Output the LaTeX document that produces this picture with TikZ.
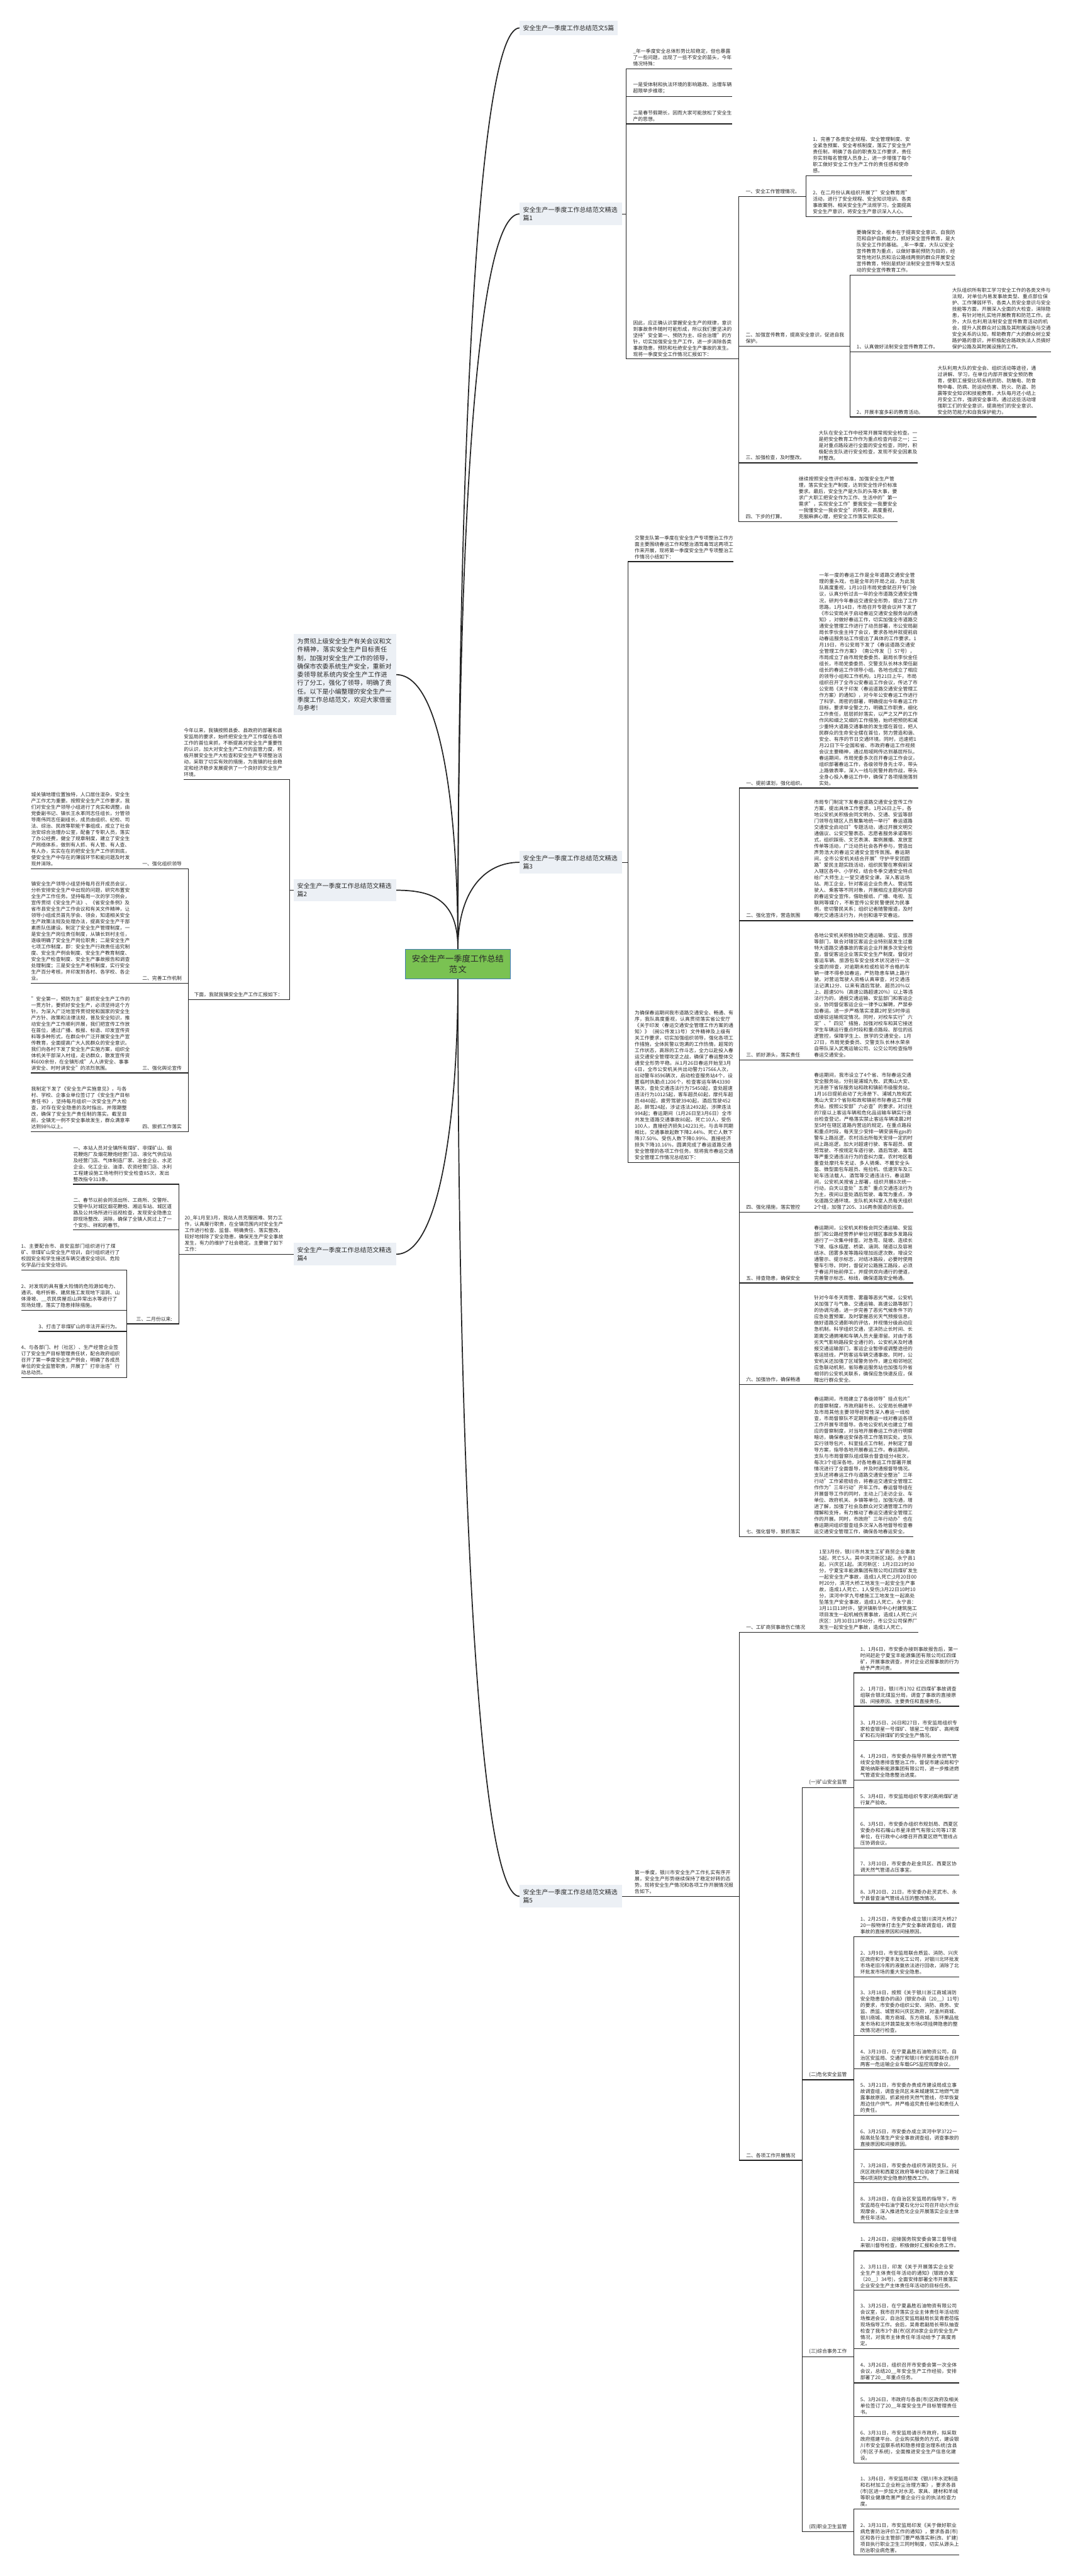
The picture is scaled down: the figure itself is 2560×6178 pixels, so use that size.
\documentclass[tikz,border=0pt]{standalone}
\usepackage{fontspec}
\setmainfont{Noto Sans CJK SC}
\XeTeXlinebreaklocale "zh"
\XeTeXlinebreakskip = 0pt plus 1pt
\usepackage{xcolor}
\definecolor{rootfill}{RGB}{122,194,82}
\definecolor{rootline}{RGB}{66,122,190}
\definecolor{topicfill}{RGB}{236,240,245}
\definecolor{linecol}{RGB}{34,34,34}
\definecolor{textcol}{RGB}{40,40,40}
\usepackage{tikz}
\usetikzlibrary{positioning, calc, backgrounds}

\begin{document}
\begin{tikzpicture}[
        x=1pt, y=-1pt,
        root/.style={rectangle, draw=rootline, line width=2pt, fill=rootfill, text width=222pt, inner xsep=15pt, inner ysep=13pt, align=center, font=\fontsize{20}{26}\selectfont, text=textcol},
        topic/.style={rectangle, fill=topicfill, inner xsep=8pt, inner ysep=10pt, align=left, font=\fontsize{15}{20}\selectfont, text=textcol},
        para/.style={inner xsep=0pt, inner ysep=6pt, text width=237pt, align=left, font=\fontsize{11.8}{15.1}\selectfont, text=textcol},
        lbl/.style={inner xsep=0pt, inner ysep=6pt, font=\fontsize{11.8}{15.1}\selectfont, text=textcol},
        link/.style={draw=linecol, line width=1.8pt},
        curve/.style={draw=linecol, line width=2.6pt}
    ]
    \useasboundingbox (0,0) rectangle (2560,6178);

    % centre
    \node[root] (root) at (1098, 2312) {安全生产一季度工作总结\\范文};

    % right side topics
    \node[topic, anchor=west] (t0) at (1246, 67) {安全生产一季度工作总结范文5篇};
    \node[topic, anchor=west, text width=230pt] (B) at (1246, 513) {安全生产一季度工作总结范文精选篇1};
    \node[topic, anchor=west, text width=230pt] (C) at (1246, 2068) {安全生产一季度工作总结范文精选篇3};
    \node[topic, anchor=west, text width=230pt] (D) at (1246, 4548) {安全生产一季度工作总结范文精选篇5};

    % left side topics
    \node[topic, anchor=east, text width=229pt] (E) at (950, 1618) {为贯彻上级安全生产有关会议和文件精神，落实安全生产目标责任制，加强对安全生产工作的领导，确保市农委系统生产安全，重新对委领导就系统内安全生产工作进行了分工，强化了领导，明确了责任。以下是小编整理的安全生产一季度工作总结范文，欢迎大家借鉴与参考!};
    \node[topic, anchor=east, text width=229pt] (F) at (950, 2135) {安全生产一季度工作总结范文精选篇2};
    \node[topic, anchor=east, text width=229pt] (G) at (950, 3008) {安全生产一季度工作总结范文精选篇4};

    % 精选篇1
    \node[para, anchor=south west] (b1) at (1518, 165) {\_年一季度安全总体形势比较稳定，但也暴露了一些问题，出现了一些不安全的苗头，今年情况特殊：};
    \node[para, anchor=south west] (b2) at (1518, 231) {一是受体制和执法环境的影响路政、治理车辆超限举步维艰；};
    \node[para, anchor=south west] (b3) at (1518, 297) {二是春节假期长，因而大家可能放松了安全生产的思想。};
    \node[para, anchor=south west] (b4) at (1518, 861) {因此，应正确认识掌握安全生产的规律，意识到事故条件随时可能形成，所以我们要坚决的坚持"安全第一、预防为主、综合治理"的方针，切实加强安全生产工作，进一步消除各类事故隐患，预防和杜绝安全生产事故的发生。现将一季度安全工作情况汇报如下：};
    \node[lbl, anchor=south west] (b41) at (1788, 471) {一、安全工作管理情况。};
    \node[para, anchor=south west] (b411) at (1949, 421) {1、完善了各类安全规程、安全管理制度、安全紧急预案、安全考核制度，落实了安全生产责任制，明确了各自的职责及工作要求，责任夯实到每名管理人员身上，进一步增强了每个职工做好安全工作生产工作的责任感和使命感。};
    \node[para, anchor=south west] (b412) at (1949, 519) {2、在二月份认真组织开展了"安全教育周"活动，进行了安全规程、安全知识培训、各类事故案例、相关安全生产法规学习，全面提高安全生产意识，将安全生产意识深入人心。};
    \node[para, anchor=south west] (b42) at (1788, 830) {二、加强宣传教育，提高安全意识，促进自我保护。};
    \node[para, anchor=south west] (b421) at (2054, 660) {要确保安全，根本在于提高安全意识、自我防范和自护自救能力，抓好安全宣传教育，是大队安全工作的基础。\_年一季度，大队以安全宣传教育为重点，以做好事前预防为目的，经常性地对队员和沿公路线两侧的群众开展安全宣传教育，特别是抓好法制安全宣传等大型活动的安全宣传教育工作。};
    \node[lbl, anchor=south west] (b422) at (2054, 844) {1、认真做好法制安全宣传教育工作。};
    \node[para, anchor=south west] (b4221) at (2283, 844) {大队组织所有职工学习安全工作的各类文件与法规，对单位内易发事故类型、重点部位保护、工作薄弱环节、各类人员安全意识与安全技能等方面，开展深入全面的大检查，消除隐患，有针对地扎实地开展教育和防范工作。此外，大队也利用法制安全宣传教育活动的机会，提升人民群众对公路及其附属设施与交通安全关系的认知，帮助教育广大的群众树立爱路护路的意识，并积极配合路政执法人员搞好保护公路及其附属设施的工作。};
    \node[lbl, anchor=south west] (b423) at (2054, 1000) {2、开展丰富多彩的教育活动。};
    \node[para, anchor=south west] (b4231) at (2248, 1000) {大队利用大队的安全会、组织活动等途径，通过讲解、学习，在单位内部开展安全预防教育，使职工接受比较系统的防、防触电、防食物中毒、防病、防运动伤害、防火、防盗、防震等安全知识和技能教育。大队每月还小结上月安全工作，强调安全事项。通过这些活动增强职工们的安全意识，提高他们的安全意识、安全防范能力和自我保护能力。};
    \node[lbl, anchor=south west] (b43) at (1788, 1110) {三、加强检查，及时整改。};
    \node[para, anchor=south west] (b431) at (1963, 1110) {大队在安全工作中经常开展常规安全检查。一是把安全教育工作作为重点检查内容之一；二是对重点路段进行全面的安全检查，同时，积极配合支队进行安全检查，发现不安全因素及时整改。};
    \node[lbl, anchor=south west] (b44) at (1788, 1251) {四、下步的打算。};
    \node[para, anchor=south west] (b441) at (1915, 1251) {继续按照安全性评价标准，加强安全生产管理，落实安全生产制度，达到安全性评价标准要求。最后，安全生产是大队的头等大事，要求广大职工把安全作为工作、生活中的"第一需求"，实现安全工作"要我安全一我要安全一我懂安全一我会安全"的转变。高度重视，克服麻痹心理，把安全工作落实到实处。};

    % 精选篇3
    \node[para, anchor=south west] (c1) at (1522, 1347) {交警支队第一季度在安全生产专项整治工作方面主要围绕春运工作和整治酒驾毒驾这两项工作来开展，现将第一季度安全生产专项整治工作情况小结如下：};
    \node[para, anchor=south west] (c2) at (1522, 2788) {为确保春运期间我市道路交通安全、畅通、有序，我队高度重视，认真贯彻落实省公安厅《关于印发〈春运交通安全管理工作方案的通知〉》（闽公传发13号）文件精神及上级有关工作要求，切实加强组织领导，强化各项工作措施，全体民警以饱满的工作热情，超常的工作状态，高昂的工作斗志，全力以赴投入春运交通安全管理攻坚之战，确保了春运整体交通安全形势平稳。从1月26日春运开始至3月6日，全市公安机关共出动警力17566人次，出动警车8596辆次，启动检查服务站4个，设置临时执勤点1206个，检查客运车辆43390辆次，查处交通违法行为75450起，查处超速违法行为10125起，客车超员60起，摩托车超员4840起，疲劳驾驶3940起，酒后驾驶452起，醉驾24起，涉证违法2492起，涉牌违法994起；春运期间（1月26日至3月6日）全市共发生道路交通事故80起，死亡10人，受伤100人，直接经济损失142231元，与去年同期相比，交通事故起数下降2.44\%、死亡人数下降37.50\%、受伤人数下降0.99\%、直接经济损失下降10.16\%，圆满完成了春运道路交通安全管理的各项工作任务。现将我市春运交通安全管理工作情况总结如下：};
    \node[lbl, anchor=south west] (c21) at (1789, 1890) {一、提前谋划，强化组织。};
    \node[para, anchor=south west] (c211) at (1964, 1890) {一年一度的春运工作是全年道路交通安全管理的重头戏，也是全年的开局之战，为此我队高度重视，1月10日市局党委就召开专门会议，认真分析过去一年的全市道路交通安全情况，研判今年春运交通安全形势，提出了工作思路。1月14日，市局召开专题会议并下发了《市公安局关于启动春运交通安全服务站的通知》，对做好春运工作，切实加强全市道路交通安全管理工作进行了动员部署，市公安局副局长李伙金主持了会议，要求各地并就提前启动春运服务站工作提出了具体的工作要求。1月19日，市公安局下发了《春运道路交通安全管理工作方案》（南公传发［］57号），市局成立了由市局党委委员、副局长李伙金任组长，市局党委委员、交警支队长林水荣任副组长的春运工作领导小组。各地也成立了相应的领导小组和工作机构。1月21日上午，市局组织召开了全市公安春运工作会议，传达了市公安局《关于印发〈春运道路交通安全管理工作方案〉的通知》，对今年公安春运工作进行了科学、周密的部署，明确提出今年春运工作目标，要求举全警之力，明确工作职责，细化工作责任，层层抓好落实，以严之又严的工作作风和细之又细的工作措施，始终把预防和减少重特大道路交通事故的发生摆在首位，把人民群众的生命安全摆在首位，努力营造和谐、安全、有序的节日交通环境。同时，迅速把1月22日下午全国和省、市政府春运工作视频会议主要精神，通过局域网传达到基层所队。春运期间，市局党委多次召开春运工作会议，组织部署春运工作，各级领导身先士卒，带头上路做表率，深入一线与民警并肩作战，带头全身心投入春运工作中，确保了各项措施落到实处。};
    \node[lbl, anchor=south west] (c22) at (1789, 2208) {二、强化宣传，营造氛围};
    \node[para, anchor=south west] (c221) at (1952, 2208) {市局专门制定下发春运道路交通安全宣传工作方案，提出具体工作要求。1月26日上午，各地公安机关积极会同文明办、交通、安监等部门领导在辖区人员聚集地统一举行"春运道路交通安全启动日"专题活动，通过开展文明交通倡议、公安交警表态、志愿者服务承诺等形式，组织踩街、文艺表演、案例展播、发放宣传单等活动，广泛动员社会各界参与，营造出声势浩大的春运交通安全宣传氛围。春运期间，全市公安机关结合开展"守护平安团圆路"爱民主题实践活动，组织民警在寒假前深入辖区各中、小学校，结合冬季交通安全特点给广大师生上一堂交通安全课。深入客运场站、用工企业，针对客运企业负责人、营运驾驶人、乘客等不同对象，开展相应主题和内容的春运安全宣传。借助报纸、广播、电视、互联网等媒介，不断宣传公安民警便民为民事例，密切警民关系；组织记者随警报道，及时曝光交通违法行为，共创和谐平安春运。};
    \node[lbl, anchor=south west] (c23) at (1789, 2542) {三、抓好源头，落实责任};
    \node[para, anchor=south west] (c231) at (1952, 2542) {各地公安机关积极协助交通运输、安监、旅游等部门，联合对辖区客运企业特别是发生过重特大道路交通事故的客运企业开展多次安全检查，督促客运企业落实安全生产制度。督促对客运车辆、旅游包车安全技术状况进行一次全面的排查，对逾期未检或检验不合格的车辆一律不得参加春运，严防隐患车辆上路行驶。对营运驾驶人资格认真审查，对交通违法记满12分、以来有酒后驾驶、超员20\%以上、超速50\%（高速公路超速20\%）以上等违法行为的，通报交通运输、安监部门和客运企业，协同督促客运企业一律予以解聘，严禁参加春运。进一步严格落实凌晨2时至5时停运或接驳运输规定情况。同时，对校车实行"六定"、"四见"措施，加强对校车和其它接送学生车辆运行重点时段和重点路段、部位的巡逻管控，保障学生上、放学的交通安全。1月27日，市局党委委员、交警支队长林水荣亲自带队深入武夷运输公司、公交公司检查指导春运交通安全。};
    \node[lbl, anchor=south west] (c24) at (1789, 2907) {四、强化措施，落实管控};
    \node[para, anchor=south west] (c241) at (1952, 2907) {春运期间，我市设立了4个省、市际春运交通安全服务站，分别是浦城九牧、武夷山大安、光泽册下省际服务站和政和镇前市级服务站，1月16日提前启动了光泽册下、浦城九牧和武夷山大安3个省际和政和镇前市际春运工作服务站，按照公安部"六必查"的要求，对过往的7座以上客运车辆和危化品运输车辆实行逐台检查登记，严格落实禁止客运车辆凌晨2时至5时在辖区道路内营运的规定。在重点路段和重点时段，每天至少安排一辆安装有gps的警车上路巡逻，农村派出所每天安排一定的时间上路巡逻。加大对超速行驶、客车超员、疲劳驾驶、不按规定车道行驶、酒后驾驶、毒驾等严重交通违法行为的查纠力度。农村地区着重查处摩托车无证、多人骑乘、不戴安全头盔、微型面包车超员、拖拉机、低速货车及三轮车违法载人、酒驾等交通违法行。春运期间，公安机关按省上部署，组织开展8次统一行动，白天以查处"五类"重点交通违法行为为主，夜间以查处酒后驾驶、毒驾为重点，净化道路交通环境。支队机关科室人员每天组织2个组，加强了205、316两条国道的巡查。};
    \node[lbl, anchor=south west] (c25) at (1789, 3077) {五、排查隐患，确保安全};
    \node[para, anchor=south west] (c251) at (1952, 3077) {春运期间，公安机关积极会同交通运输、安监部门和公路经营养护单位对辖区事故多发路段进行了一次集中排查。对急弯、陡坡、连续长下坡、临水临崖、桥梁、涵洞、隧道以及容易结冰、团雾多发等路段增加巡逻次数，增设交通警示、提示标志，对结冰路段，必要时使用警车引导。同时，督促对公路施工路段，必须于春运开始前停工，并提供双向通行的便道，完善警示标志、标线，确保道路安全畅通。};
    \node[lbl, anchor=south west] (c26) at (1789, 3321) {六、加强协作，确保畅通};
    \node[para, anchor=south west] (c261) at (1952, 3321) {针对今年冬天雨雪、雾霾等恶劣气候，公安机关加强了与气象、交通运输、高速公路等部门的协调沟通，进一步完善了恶劣气候条件下的应急处置预案，及时掌握恶劣天气预报信息，做好道路交通影响的评估，并视情分级启动应急机制。科学组织交通，坚决防止长时间、长距离交通拥堵和车辆人员大量滞留。对由于恶劣天气影响路段安全通行的，公安机关及时通报交通运输部门，客运企业暂停或调整途径的客运班线，严防客运车辆交通事故。同时，公安机关还加强了区域警务协作，建立相邻地区应急联动机制，省际春运服务站也加强与外省相邻的公安机关联系，确保应急快速反应，保障出行群众安全。};
    \node[lbl, anchor=south west] (c27) at (1789, 3685) {七、强化督导，狠抓落实};
    \node[para, anchor=south west] (c271) at (1952, 3685) {春运期间，市局建立了各级领导"挂点包片"的督察制度，市政府副市长、公安局长杨建平及市局其他主要领导经常性深入春运一线检查，市局督察队不定期到春运一线对春运各项工作开展专项督导。各地公安机关也建立了相应的督察制度，对当地开展春运工作进行明察暗访，确保春运安保各项工作落到实处。支队实行领导包片、科室挂点工作制，并制定了督导方案，指导各地开展春运工作。春运期间，支队与市局督察队组成联合督查组分4批次，每次3个组深各地，对各地春运工作部署开展情况进行了全面督导，并及时通报督导情况。支队还将春运工作与道路交通安全整治"三年行动"工作紧密结合，将春运交通安全管理工作作为"三年行动"开年工作。春运督导组在开展督导工作的同时，主动上门走访企业、车单位、政府机关、乡镇等单位，加强沟通，增进了解，加强了社会及群众对交通管理工作的理解和支持，有力推动了春运交通安全管理工作的开展。同时，市政府"三年行动办"也在春运期间组织督查组多次深入各地督导检查春运交通安全管理工作，确保各地春运安全。};

    % 精选篇5
    \node[para, anchor=south west] (d1) at (1522, 4548) {第一季度，银川市安全生产工作扎实有序开展，安全生产形势继续保持了稳定好转的态势。现将安全生产情况和各项工作开展情况报告如下。};
    \node[lbl, anchor=south west] (d11) at (1789, 3915) {一、工矿商贸事故伤亡情况};
    \node[para, anchor=south west] (d111) at (1964, 3915) {1至3月份，银川市共发生工矿商贸企业事故5起，死亡5人。其中滨河新区3起，永宁县1起，兴庆区1起。滨河新区：1月2日23时30分，宁夏宝丰能源集团有限公司红四煤矿发生一起安全生产事故，造成1人死亡;2月20日00时20分，滨河大桥工地发生一起安全生产事故，造成1人死亡、1人受伤;3月22日10时10分，滨河中学九号楼施工工地发生一起高处坠落生产安全事故，造成1人死亡。永宁县：3月11日13时许，望洪镇新华中心村建筑施工项目发生一起机械伤害事故，造成1人死亡;兴庆区：3月30日11时40分，市公交公司保养厂发生一起安全生产事故，造成1人死亡。};
    \node[lbl, anchor=south west] (d12) at (1789, 5181) {二、各项工作开展情况};
    \node[lbl, anchor=south west] (d121) at (1940, 4287) {(一)矿山安全监管};
    \node[para, anchor=south west] (d1211) at (2063, 4012) {1、1月6日，市安委办接到事故报告后，第一时间赶赴宁夏宝丰能源集团有限公司红四煤矿，开展事故调查，并对企业迟报事故的行为给予严肃问责。};
    \node[para, anchor=south west] (d1212) at (2063, 4092) {2、1月7日，银川市1?02 红四煤矿事故调查组联合银北煤监分局，调查了事故的直接原因、间接原因、主要责任和直接责任。};
    \node[para, anchor=south west] (d1213) at (2063, 4174) {3、1月25日、26日和27日，市安监局组织专家检查银星一号煤矿、银星二号煤矿、高闸煤矿和石沟驿煤矿的安全生产情况。};
    \node[para, anchor=south west] (d1214) at (2063, 4269) {4、1月29日，市安委办指导开展全市燃气管线安全隐患排查整治工作，督促市建设局和宁夏哈纳斯新能源集团有限公司，进一步推进燃气管道安全隐患整治进度。};
    \node[para, anchor=south west] (d1215) at (2063, 4335) {5、3月4日，市安监局组织专家对高闸煤矿进行复产验收。};
    \node[para, anchor=south west] (d1216) at (2063, 4432) {6、3月5日，市安委办组织市规划局、西夏区安委办和石嘴山市星泽燃气有限公司等17家单位，在行政中心8楼召开西夏区燃气管线占压协调会议。};
    \node[para, anchor=south west] (d1217) at (2063, 4497) {7、3月10日，市安委办赴金凤区、西夏区协调天然气管道占压事宜。};
    \node[para, anchor=south west] (d1218) at (2063, 4564) {8、3月20日、21日，市安委办赴灵武市、永宁县督查油气管线占压的整改情况。};
    \node[lbl, anchor=south west] (d122) at (1940, 4988) {(二)危化安全监管};
    \node[para, anchor=south west] (d1221) at (2063, 4645) {1、2月25日，市安委办成立银川滨河大桥2?20一般物体打击生产安全事故调查组，调查事故的直接原因和间接原因。};
    \node[para, anchor=south west] (d1222) at (2063, 4741) {2、3月9日，市安监局联合质监、消防、兴庆区政府和宁夏丰友化工公司，对银川北环批发市场老旧冷库的液氨依法进行回收，消除了北环批发市场的重大安全隐患。};
    \node[para, anchor=south west] (d1223) at (2063, 4881) {3、3月18日，按照《关于银川浙江商城消防安全隐患督办的函》(银安办函〔20\_\_〕11号)的要求，市安委办组织公安、消防、商务、安监、质监、城管和兴庆区政府，对温州商城、银川商城、南方商城、东方商城、东环果品批发市场和北环蔬菜批发市场6项挂牌隐患的整改情况进行检查。};
    \node[para, anchor=south west] (d1224) at (2063, 4962) {4、3月19日，在宁夏晶胜石油物资公司，自治区安监局、交通厅和银川市安监局联合召开两客一危运输企业车载GPS监控观摩会议。};
    \node[para, anchor=south west] (d1225) at (2063, 5073) {5、3月21日，市安委办责成市建设局成立事故调查组，调查金凤区未来城建筑工地燃气泄露事故原因，抓紧抢修天然气管线，尽早恢复周边住户供气，并严格追究责任单位和责任人的责任。};
    \node[para, anchor=south west] (d1226) at (2063, 5154) {6、3月25日，市安委办成立滨河中学3?22一般高处坠落生产安全事故调查组，调查事故的直接原因和间接原因。};
    \node[para, anchor=south west] (d1227) at (2063, 5235) {7、3月28日，市安委办组织市消防支队、兴庆区政府和西夏区政府等单位验收了浙江商城等6项消防安全隐患的整改工作。};
    \node[para, anchor=south west] (d1228) at (2063, 5331) {8、3月28日，在自治区安监局的指导下，市安监局在中石油宁夏石化分公司召开动火作业观摩会，深入推进危化企业开展落实企业主体责任年活动。};
    \node[lbl, anchor=south west] (d123) at (1940, 5652) {(三)综合事务工作};
    \node[para, anchor=south west] (d1231) at (2063, 5398) {1、2月26日，迎接国务院安委会第三督导组来银川督导检查，积极做好汇报和会务工作。};
    \node[para, anchor=south west] (d1232) at (2063, 5493) {2、3月11日，印发《关于开展落实企业安全生产主体责任年活动的通知》(银政办发〔20\_\_〕34号)，全面安排部署全市开展落实企业安全生产主体责任年活动的目标任务。};
    \node[para, anchor=south west] (d1233) at (2063, 5633) {3、3月25日，在宁夏晶胜石油物资有限公司会议室，我市召开落实企业主体责任年活动现场推进会议，自治区安监局副局长吴青君莅临现场指导工作。会后，吴青君副局长带队抽查检查了我市3个县(市)区的8家企业的安全生产情况，对我市主体责任年活动给予了高度肯定。};
    \node[para, anchor=south west] (d1234) at (2063, 5715) {4、3月26日，组织召开市安委会第一次全体会议，总结20\_\_年安全生产工作经验，安排部署了20\_\_年重点任务。};
    \node[para, anchor=south west] (d1235) at (2063, 5796) {5、3月26日，市政府与各县(市)区政府及相关单位签订了20\_\_年度安全生产目标管理责任书。};
    \node[para, anchor=south west] (d1236) at (2063, 5907) {6、3月31日，市安监局请示市政府，拟采取政府搭建平台、企业购买服务的方式，建设银川市安全监察系统和隐患排查治理系统(含县(市)区子系统)，全面推进安全生产信息化建设。};
    \node[lbl, anchor=south west] (d124) at (1940, 6072) {(四)职业卫生监管};
    \node[para, anchor=south west] (d1241) at (2063, 6017) {1、3月6日，市安监局印发《银川市水泥制造和石材加工企业粉尘治理方案》，要求各县(市)区进一步加大对水泥、家具、建材和羊绒等职业健康危害严重企业行业的执法检查力度。};
    \node[para, anchor=south west] (d1242) at (2063, 6128) {2、3月31日，市安监局印发《关于做好职业病危害防治评价工作的通知》，要求各县(市)区和各行业主管部门要严格落实新(改、扩建)项目执行职业卫生三同时制度，切实从源头上防治职业病危害。};

    % 精选篇2 (left)
    \node[para, anchor=south east] (f1) at (678, 1869) {今年以来，我镇按照县委、县政府的部署和县安监局的要求，始终把安全生产工作摆在各项工作的首位来抓，不断提高对安全生产重要性的认识，加大对安全生产工作的监管力度，积极开展安全生产大检查和安全生产专项整治活动，采取了切实有效的措施，为我镇的社会稳定和经济稳步发展提供了一个良好的安全生产环境。};
    \node[lbl, anchor=south east] (f2) at (678, 2398) {下面，我就我镇安全生产工作汇报如下：};
    \node[lbl, anchor=south east] (f21) at (436, 2084) {一、强化组织领导};
    \node[para, anchor=south east] (f211) at (312, 2084) {城关镇地理位置独特，人口居住混杂，安全生产工作尤为重要。按照安全生产工作要求，我们对安全生产领导小组进行了充实和调整，由党委副书记、镇长王永革同志任组长，分管领导南伟同志任副组长，成员由组织、纪检、司法、综治、民政等职能干事组成，成立了社会治安综合治理办公室，配备了专职人员，落实了办公经费，健全了规章制度，建立了安全生产网络体系，做到有人抓、有人管、有人查、有人办，实实在在的把安全生产工作抓到底，使安全生产中存在的薄弱环节和能问题及时发现并消除。};
    \node[lbl, anchor=south east] (f22) at (436, 2358) {二、完善工作机制};
    \node[para, anchor=south east] (f221) at (312, 2358) {镇安全生产领导小组坚持每月召开成员会议，分析安排安全生产中出现的问题，研究布置安全生产工作任务。坚持每周一次的学习例会，宣传贯彻《安全生产法》、《省安全条例》及省市县安全生产工作会议和有关文件精神，让领导小组成员首先学会、领会，知道相关安全生产政策法规及处理办法，提高安全生产干部素质队伍建设。制定了安全生产管理制度，一是安全生产岗位责任制度，从镇长到村主任，逐级明确了安全生产岗位职责；二是安全生产七项工作制度，即：安全生产行政责任追究制度、安全生产例会制度、安全生产教育制度、安全生产检查制度、安全生产事故报告和调查处理制度；三是安全生产考核制度，实行安全生产百分考核，并印发到各村、各学校、各企业。};
    \node[lbl, anchor=south east] (f23) at (436, 2573) {三、强化舆论宣传};
    \node[para, anchor=south east] (f231) at (312, 2573) {"安全第一，预防为主"是抓安全生产工作的一贯方针，要抓好安全生产，必须坚持这个方针。为深入广泛地宣传贯彻党和国家的安全生产方针、政策和法律法规，普及安全知识，推动安全生产工作顺利开展，我们把宣传工作放在首位，通过广播、板报、标语、印发宣传资料等多种形式，在群众中广泛开展安全生产宣传教育，全面提高广大人民群众的安全意识。我们向各村下发了安全生产实施方案，组织全体机关干部深入村组，走访群众，散发宣传资料600余份，在全镇形成"人人讲安全、事事讲安全、时时讲安全"的浓烈氛围。};
    \node[lbl, anchor=south east] (f24) at (436, 2714) {四、狠抓工作落实};
    \node[para, anchor=south east] (f241) at (312, 2714) {我制定下发了《安全生产实施意见》，与各村、学校、企事业单位签订了《安全生产目标责任书》，坚持每月组织一次安全生产大检查，对存在安全隐患的及时指出，并限期整改，确保了安全生产责任制的落实。截至目前，全镇无一例不安全事故发生，群众满意率达到98\%以上。};

    % 精选篇4 (left)
    \node[para, anchor=south east] (g1) at (680, 3008) {20\_年1月至3月，我站人员克服困难、努力工作，认真履行职责，在全镇范围内对安全生产工作进行检查、监督、明确责任、落实整改，较好地排除了安全隐患，确保无生产安全事故发生，有力的维护了社会稳定。主要做了如下工作：};
    \node[para, anchor=south east] (g11) at (413, 2840) {一、本站人员对全镇所有煤矿、非煤矿山、烟花鞭炮厂及烟花鞭炮经营门店、液化气供应站及经营门店、气体制造厂家、冶金企业、水泥企业、化工企业、油漆、农资经营门店、水利工程建设施工场地例行安全检查85次，发出整改指令313条。};
    \node[para, anchor=south east] (g12) at (413, 2950) {二、春节以前会同派出所、工商所、交警所、交警中队对城区烟花鞭炮、湘运车站、城区道路及公共场所进行巡视检查，发现安全隐患立即现场整改、消除，确保了全镇人民过上了一个安乐、祥和的春节。};
    \node[lbl, anchor=south east] (g13) at (413, 3175) {三、二月份以来:};
    \node[para, anchor=south east] (g131) at (288, 3046) {1、主要配合市、县安监部门组织进行了煤矿、非煤矿山安全生产培训，自行组织进行了校园安全和学生接送车辆交通安全培训、危险化学品行业安全培训。};
    \node[para, anchor=south east] (g132) at (288, 3143) {2、对发现的具有重大险情的危险源如电力、通讯、电杆折断、建房施工发现地下溶洞、山体滑坡、\_\_农民房屋后山异常出水等进行了现场处理，落实了隐患排除措施。};
    \node[lbl, anchor=south east] (g133) at (288, 3193) {3、打击了非煤矿山的非法开采行为。};
    \node[para, anchor=south east] (g134) at (288, 3304) {4、与各部门、村（社区）、生产经营企业签订了安全生产目标管理责任状，配合政府组织召开了第一季度安全生产例会，明确了各成员单位的安全监管职责，开展了"打非治违"行动总动员。};

    \begin{scope}[on background layer]
        \fill[white] (0,0) rectangle (2560,6178);

        % curves from the centre
        \draw[curve] (root.north) .. controls (1098, 1200) and (1140, 67) .. (t0.west);
        \draw[curve] (root.north) .. controls (1098, 1300) and (1140, 513) .. (B.west);
        \draw[curve] (root.north) .. controls (1098, 2140) and (1160, 2068) .. (C.west);
        \draw[curve] (root.south) .. controls (1098, 3400) and (1140, 4548) .. (D.west);
        \draw[curve] (root.north) .. controls (1098, 1950) and (1060, 1618) .. (E.east);
        \draw[curve] (root.north) .. controls (1098, 2160) and (1040, 2135) .. (F.east);
        \draw[curve] (root.south) .. controls (1098, 2650) and (1060, 3008) .. (G.east);

        % 精选篇1
        \draw[link] (B.east) -| ([xshift=-16pt]b1.south west) -- (b1.south east);
        \draw[link] (B.east) -| ([xshift=-16pt]b2.south west) -- (b2.south east);
        \draw[link] (B.east) -| ([xshift=-16pt]b3.south west) -- (b3.south east);
        \draw[link] (B.east) -| ([xshift=-16pt]b4.south west) -- (b4.south east);
        \draw[link] (b4.south east) -| ([xshift=-16pt]b41.south west) -- (b41.south east);
        \draw[link] (b4.south east) -| ([xshift=-16pt]b42.south west) -- (b42.south east);
        \draw[link] (b4.south east) -| ([xshift=-16pt]b43.south west) -- (b43.south east);
        \draw[link] (b4.south east) -| ([xshift=-16pt]b44.south west) -- (b44.south east);
        \draw[link] (b41.south east) -| ([xshift=-16pt]b411.south west) -- (b411.south east);
        \draw[link] (b41.south east) -| ([xshift=-16pt]b412.south west) -- (b412.south east);
        \draw[link] (b42.south east) -| ([xshift=-16pt]b421.south west) -- (b421.south east);
        \draw[link] (b42.south east) -| ([xshift=-16pt]b422.south west) -- (b422.south east);
        \draw[link] (b42.south east) -| ([xshift=-16pt]b423.south west) -- (b423.south east);
        \draw[link] (b422.south east) -- (b4221.south east);
        \draw[link] (b423.south east) -- (b4231.south east);
        \draw[link] (b43.south east) -- (b431.south east);
        \draw[link] (b44.south east) -- (b441.south east);

        % 精选篇3
        \draw[link] (C.east) -| ([xshift=-16pt]c1.south west) -- (c1.south east);
        \draw[link] (C.east) -| ([xshift=-16pt]c2.south west) -- (c2.south east);
        \draw[link] (c2.south east) -| ([xshift=-16pt]c21.south west) -- (c21.south east);
        \draw[link] (c2.south east) -| ([xshift=-16pt]c22.south west) -- (c22.south east);
        \draw[link] (c2.south east) -| ([xshift=-16pt]c23.south west) -- (c23.south east);
        \draw[link] (c2.south east) -| ([xshift=-16pt]c24.south west) -- (c24.south east);
        \draw[link] (c2.south east) -| ([xshift=-16pt]c25.south west) -- (c25.south east);
        \draw[link] (c2.south east) -| ([xshift=-16pt]c26.south west) -- (c26.south east);
        \draw[link] (c2.south east) -| ([xshift=-16pt]c27.south west) -- (c27.south east);
        \draw[link] (c21.south east) -- (c211.south east);
        \draw[link] (c22.south east) -- (c221.south east);
        \draw[link] (c23.south east) -- (c231.south east);
        \draw[link] (c24.south east) -- (c241.south east);
        \draw[link] (c25.south east) -- (c251.south east);
        \draw[link] (c26.south east) -- (c261.south east);
        \draw[link] (c27.south east) -- (c271.south east);

        % 精选篇5
        \draw[link] (D.east) -- (d1.south east);
        \draw[link] (d1.south east) -| ([xshift=-16pt]d11.south west) -- (d11.south east);
        \draw[link] (d1.south east) -| ([xshift=-16pt]d12.south west) -- (d12.south east);
        \draw[link] (d11.south east) -- (d111.south east);
        \draw[link] (d12.south east) -| ([xshift=-16pt]d121.south west) -- (d121.south east);
        \draw[link] (d12.south east) -| ([xshift=-16pt]d122.south west) -- (d122.south east);
        \draw[link] (d12.south east) -| ([xshift=-16pt]d123.south west) -- (d123.south east);
        \draw[link] (d12.south east) -| ([xshift=-16pt]d124.south west) -- (d124.south east);
        \draw[link] (d121.south east) -| ([xshift=-16pt]d1211.south west) -- (d1211.south east);
        \draw[link] (d121.south east) -| ([xshift=-16pt]d1212.south west) -- (d1212.south east);
        \draw[link] (d121.south east) -| ([xshift=-16pt]d1213.south west) -- (d1213.south east);
        \draw[link] (d121.south east) -| ([xshift=-16pt]d1214.south west) -- (d1214.south east);
        \draw[link] (d121.south east) -| ([xshift=-16pt]d1215.south west) -- (d1215.south east);
        \draw[link] (d121.south east) -| ([xshift=-16pt]d1216.south west) -- (d1216.south east);
        \draw[link] (d121.south east) -| ([xshift=-16pt]d1217.south west) -- (d1217.south east);
        \draw[link] (d121.south east) -| ([xshift=-16pt]d1218.south west) -- (d1218.south east);
        \draw[link] (d122.south east) -| ([xshift=-16pt]d1221.south west) -- (d1221.south east);
        \draw[link] (d122.south east) -| ([xshift=-16pt]d1222.south west) -- (d1222.south east);
        \draw[link] (d122.south east) -| ([xshift=-16pt]d1223.south west) -- (d1223.south east);
        \draw[link] (d122.south east) -| ([xshift=-16pt]d1224.south west) -- (d1224.south east);
        \draw[link] (d122.south east) -| ([xshift=-16pt]d1225.south west) -- (d1225.south east);
        \draw[link] (d122.south east) -| ([xshift=-16pt]d1226.south west) -- (d1226.south east);
        \draw[link] (d122.south east) -| ([xshift=-16pt]d1227.south west) -- (d1227.south east);
        \draw[link] (d122.south east) -| ([xshift=-16pt]d1228.south west) -- (d1228.south east);
        \draw[link] (d123.south east) -| ([xshift=-16pt]d1231.south west) -- (d1231.south east);
        \draw[link] (d123.south east) -| ([xshift=-16pt]d1232.south west) -- (d1232.south east);
        \draw[link] (d123.south east) -| ([xshift=-16pt]d1233.south west) -- (d1233.south east);
        \draw[link] (d123.south east) -| ([xshift=-16pt]d1234.south west) -- (d1234.south east);
        \draw[link] (d123.south east) -| ([xshift=-16pt]d1235.south west) -- (d1235.south east);
        \draw[link] (d123.south east) -| ([xshift=-16pt]d1236.south west) -- (d1236.south east);
        \draw[link] (d124.south east) -| ([xshift=-16pt]d1241.south west) -- (d1241.south east);
        \draw[link] (d124.south east) -| ([xshift=-16pt]d1242.south west) -- (d1242.south east);

        % 精选篇2
        \draw[link] (F.west) -| ([xshift=16pt]f1.south east) -- (f1.south west);
        \draw[link] (F.west) -| ([xshift=16pt]f2.south east) -- (f2.south west);
        \draw[link] (f2.south west) -| ([xshift=16pt]f21.south east) -- (f21.south west);
        \draw[link] (f2.south west) -| ([xshift=16pt]f22.south east) -- (f22.south west);
        \draw[link] (f2.south west) -| ([xshift=16pt]f23.south east) -- (f23.south west);
        \draw[link] (f2.south west) -| ([xshift=16pt]f24.south east) -- (f24.south west);
        \draw[link] (f21.south west) -- (f211.south west);
        \draw[link] (f22.south west) -- (f221.south west);
        \draw[link] (f23.south west) -- (f231.south west);
        \draw[link] (f24.south west) -- (f241.south west);

        % 精选篇4
        \draw[link] (G.west) -- (g1.south west);
        \draw[link] (g1.south west) -| ([xshift=16pt]g11.south east) -- (g11.south west);
        \draw[link] (g1.south west) -| ([xshift=16pt]g12.south east) -- (g12.south west);
        \draw[link] (g1.south west) -| ([xshift=16pt]g13.south east) -- (g13.south west);
        \draw[link] (g13.south west) -| ([xshift=16pt]g131.south east) -- (g131.south west);
        \draw[link] (g13.south west) -| ([xshift=16pt]g132.south east) -- (g132.south west);
        \draw[link] (g13.south west) -| ([xshift=16pt]g133.south east) -- (g133.south west);
        \draw[link] (g13.south west) -| ([xshift=16pt]g134.south east) -- (g134.south west);
    \end{scope}
\end{tikzpicture}
\end{document}
